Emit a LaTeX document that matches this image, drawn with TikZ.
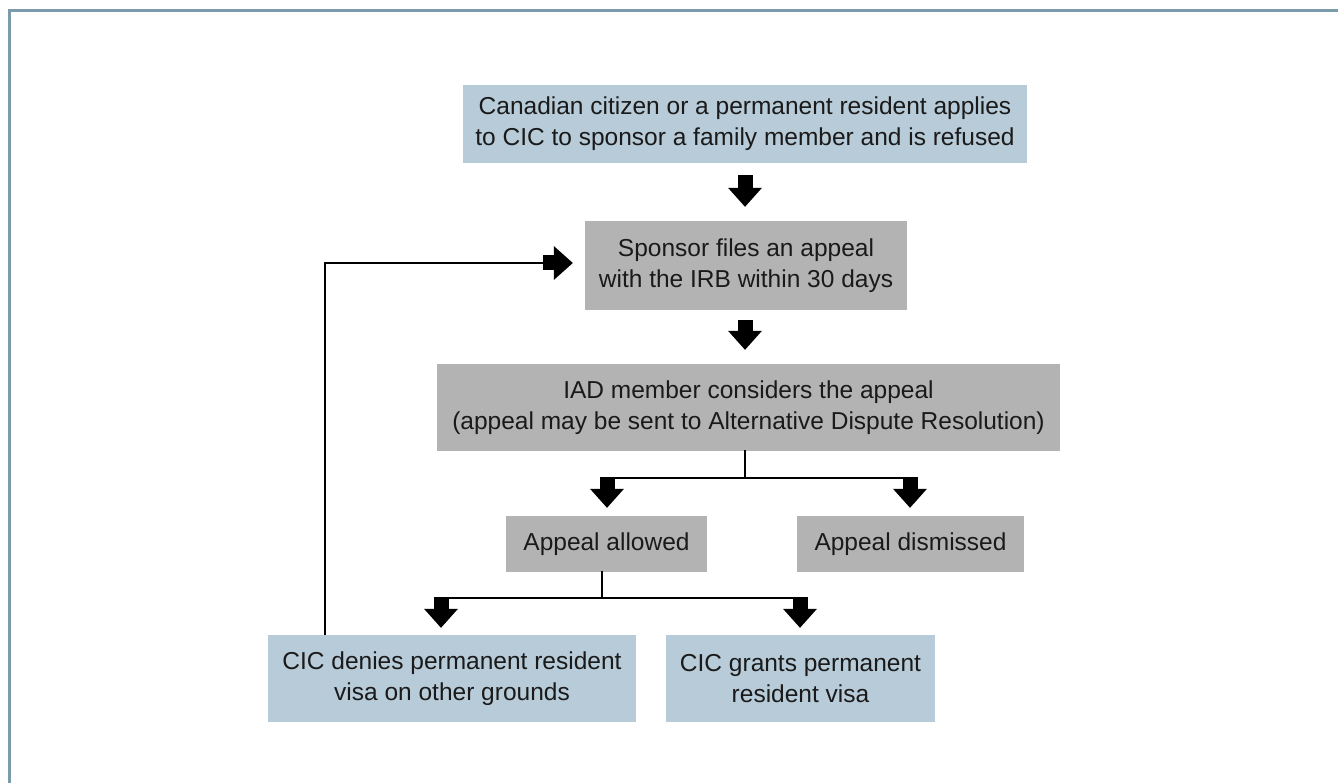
\documentclass[tikz,border=0pt]{standalone}
\usepackage{fontspec}
\setmainfont{Liberation Sans}
\usetikzlibrary{arrows.meta,calc}
\definecolor{bluefill}{HTML}{B8CBD8}
\definecolor{grayfill}{HTML}{B3B3B3}
\definecolor{framecol}{HTML}{7B9AAA}
\definecolor{txt}{HTML}{1A1A1A}
\tikzset{
  box/.style={draw=none, align=center, inner sep=0pt, text=txt,
    font=\fontsize{24.5}{31}\selectfont},
  bluebox/.style={box, fill=bluefill},
  graybox/.style={box, fill=grayfill},
  blk/.style={line width=15pt,
    -{Triangle[width=34pt,length=19pt,line width=0pt]}},
  ln/.style={line width=2pt, line cap=rect}
}
\begin{document}
\begin{tikzpicture}[x=1pt,y=-1pt]
\useasboundingbox (0,0) rectangle (1338,783);
\fill[white] (0,0) rectangle (1338,783);
\draw[framecol, line width=3pt] (9.5,783) -- (9.5,10.5) -- (1338,10.5);

\node[bluebox, minimum width=564pt, minimum height=78pt] (top) at (745,124)
  {Canadian citizen or a permanent resident applies\\to CIC to sponsor a family member and is refused};
\node[graybox, minimum width=322pt, minimum height=89pt] (spon) at (746,265.5)
  {Sponsor files an appeal\\with the IRB within 30 days};
\node[graybox, minimum width=623pt, minimum height=87pt] (iad) at (748.5,407.5)
  {IAD member considers the appeal\\(appeal may be sent to Alternative Dispute Resolution)};
\node[graybox, minimum width=201pt, minimum height=56pt] (allow) at (606.5,544)
  {Appeal allowed};
\node[graybox, minimum width=227pt, minimum height=56pt] (dism) at (910.5,544)
  {Appeal dismissed};
\node[bluebox, minimum width=368pt, minimum height=87pt] (deny) at (452,678.5)
  {CIC denies permanent resident\\visa on other grounds};
\node[bluebox, minimum width=269pt, minimum height=87pt] (grant) at (800.5,678.5)
  {CIC grants permanent\\resident visa};

% block arrows top
\draw[blk, shorten <=12pt, shorten >=14pt] (top.south -| 745,0) -- (spon.north -| 745,0);
\draw[blk, shorten <=10pt, shorten >=14pt] (spon.south -| 745,0) -- (iad.north -| 745,0);

% IAD split
\coordinate (j1) at (iad.south -| 745,0);
\coordinate (j1b) at (745,478);
\coordinate (l1) at (607,478);
\coordinate (r1) at (910,478);
\draw[ln] (j1) -- (j1b);
\draw[ln, line cap=butt] ($(l1)+(-7,0)$) -- ($(r1)+(7,0)$);
\draw[blk, shorten >=8pt] ($(l1)+(0,-1)$) -- (allow.north -| l1);
\draw[blk, shorten >=8pt] ($(r1)+(0,-1)$) -- (dism.north -| r1);

% Appeal allowed split
\coordinate (j2) at (allow.south -| 602,0);
\coordinate (j2b) at (602,598);
\coordinate (l2) at (441,598);
\coordinate (r2) at (800,598);
\draw[ln] (j2) -- (j2b);
\draw[ln, line cap=butt] ($(l2)+(-7,0)$) -- ($(r2)+(7,0)$);
\draw[blk, shorten >=7pt] ($(l2)+(0,-1)$) -- (deny.north -| l2);
\draw[blk, shorten >=7pt] ($(r2)+(0,-1)$) -- (grant.north -| r2);

% feedback loop
\coordinate (fb) at (543,263);
\draw[line width=2pt] (deny.north -| 325,0) -- (325,263) -- (fb);
\draw[blk, shorten >=12pt] (fb) -- (spon.west |- fb);
\end{tikzpicture}
\end{document}
